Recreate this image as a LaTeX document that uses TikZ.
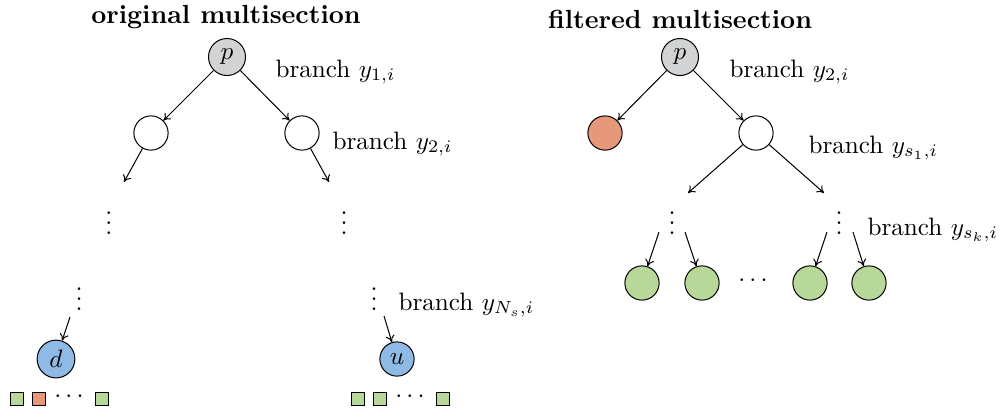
\documentclass[tikz,border=0pt]{standalone}
\usepackage{tikz}
\usepackage{xcolor}
\usetikzlibrary{arrows.meta}
\definecolor{pgray}{RGB}{209,211,212}
\definecolor{dred}{RGB}{232,152,122}
\definecolor{lgreen}{RGB}{184,216,154}
\definecolor{lblue}{RGB}{142,186,229}

\begin{document}
\begin{tikzpicture}[x=0.397pt,y=-0.397pt,>={To[length=2.7pt,width=3.6pt]},
		vtx/.style={circle, draw, inner sep=0pt, minimum size=13.6pt},
		box/.style={draw, inner sep=0pt, minimum size=5.5pt},
		lbl/.style={anchor=base west, inner sep=0pt}]
	\useasboundingbox (0,0) rectangle (1005,414);

	\node[anchor=base, inner sep=0pt, scale=1.04] (t1) at (226,23) {\bfseries original multisection};
	\node[anchor=base, inner sep=0pt, scale=1.04] (t2) at (680,28) {\bfseries filtered multisection};

	\node[vtx, fill=pgray, minimum size=14.7pt] (p1) at (227,57) {$p$};
	\node[vtx] (a1) at (151,133) {};
	\node[vtx] (b1) at (302,133) {};
	\node[inner sep=0pt] (va1) at (109,216) {$\vdots$};
	\node[inner sep=0pt] (vb1) at (344,216) {$\vdots$};
	\node[inner sep=0pt] (va2) at (79,292) {$\vdots$};
	\node[inner sep=0pt] (vb2) at (374,292) {$\vdots$};
	\node[vtx, fill=lblue, minimum size=15pt] (d) at (56,359) {$d$};
	\node[vtx, fill=lblue] (u) at (397,359) {$u$};

	\coordinate (ea) at (124,182);
	\coordinate (eb) at (329,182);
	\coordinate (sd) at (70,317);
	\coordinate (su) at (384,316);
	\draw[->] (p1) -- (a1);
	\draw[->] (p1) -- (b1);
	\draw[->] (a1) -- (ea);
	\draw[->] (b1) -- (eb);
	\draw[->] (sd) -- (d);
	\draw[->] (su) -- (u);

	\node[lbl] (l1) at (275,77) {branch $y_{1,i}$};
	\node[lbl] (l2) at (332,149) {branch $y_{2,i}$};
	\node[lbl] (l3) at (398,310) {branch $y_{N_s,i}$};

	\foreach \x/\c [count=\k] in {17/lgreen,39/dred,102/lgreen,358/lgreen,380/lgreen,443/lgreen}
		\node[box, fill=\c] (q\k) at (\x,399) {};
	\node[inner sep=0pt] (qd1) at (69,397) {$\cdots$};
	\node[inner sep=0pt] (qd2) at (410,397) {$\cdots$};

	\node[vtx, fill=pgray, minimum size=14.7pt] (p2) at (680,57) {$p$};
	\node[vtx, fill=dred] (r) at (605,133) {};
	\node[vtx] (w) at (756,133) {};
	\node[inner sep=0pt] (vc) at (672,216) {$\vdots$};
	\node[inner sep=0pt] (vd) at (839,216) {$\vdots$};
	\foreach \x [count=\k] in {642,702,810,869}
		\node[vtx, fill=lgreen] (g\k) at (\x,283) {};
	\node[inner sep=0pt] (gd) at (753,281) {$\cdots$};

	\coordinate (ec) at (688,193);
	\coordinate (ed) at (824,193);
	\draw[->] (p2) -- (r);
	\draw[->] (p2) -- (w);
	\draw[->] (w) -- (ec);
	\draw[->] (w) -- (ed);
	\foreach \x [count=\k] in {659,685,827,853}{
		\coordinate (s\k) at (\x,232);
		\draw[->] (s\k) -- (g\k);
	}

	\node[lbl] (l4) at (729,77) {branch $y_{2,i}$};
	\node[lbl] (l5) at (808,153) {branch $y_{s_1,i}$};
	\node[lbl] (l6) at (867,235) {branch $y_{s_k,i}$};
\end{tikzpicture}
\end{document}
